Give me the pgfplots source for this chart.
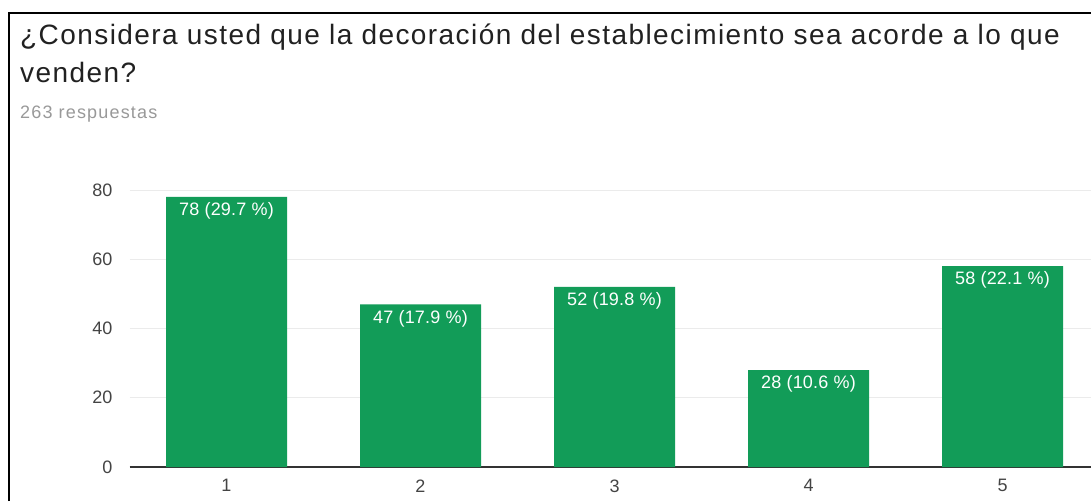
\documentclass[border=0pt]{standalone}
\usepackage{fontspec}
\setmainfont{Liberation Sans}
\usepackage{pgfplots}
\pgfplotsset{compat=1.18}
\definecolor{bargreen}{HTML}{129C58}
\definecolor{titlecol}{HTML}{212121}
\definecolor{subcol}{HTML}{999999}
\definecolor{tickcol}{HTML}{444444}
\definecolor{gridcol}{HTML}{EBEBEB}
\begin{document}
\begin{tikzpicture}[x=1pt,y=1pt]
\clip (0,0) rectangle (1091,501);
\fill[white] (0,0) rectangle (1091,501);
\begin{axis}[
  at={(129.5pt,34pt)}, anchor=south west,
  scale only axis, width=970pt, height=277pt,
  xmin=0.5, xmax=5.5, ymin=0, ymax=80,
  ytick={0,20,40,60,80},
  xtick={1,2,3,4,5},
  ymajorgrids, grid style={color=gridcol, line width=1pt},
  axis line style={draw=none},
  major tick length=0pt,
  /pgf/number format/assume math mode=true,
  tick label style={font=\fontsize{18}{20}\selectfont, text=tickcol},
  yticklabel style={xshift=-13.5pt},
  xticklabel style={yshift=-9pt},
  extra y ticks={0}, extra y tick labels={},
  extra y tick style={grid style={color=black!80, line width=1.5pt}},
  ybar, bar width=121pt, bar shift=0pt,
  nodes near coords, point meta=explicit symbolic,
  every node near coord/.append style={anchor=north, text=white, inner ysep=5.5pt, font=\fontsize{18}{20}\selectfont\addfontfeatures{LetterSpace=1.2}},
  clip=false,
]
\addplot[fill=bargreen, draw=none] table[col sep=comma, x=x, y=y, meta=label] {
x,y,label
1,78,78 (29.7 \%)
2,47,47 (17.9 \%)
3,52,52 (19.8 \%)
4,28,28 (10.6 \%)
5,58,58 (22.1 \%)
};
\end{axis}
\node[anchor=base west, font=\fontsize{28}{34}\selectfont\addfontfeatures{LetterSpace=5.1}, text=titlecol, inner sep=0pt] at (20,456) {¿Considera usted que la decoración del establecimiento sea acorde a lo que};
\node[anchor=base west, font=\fontsize{28}{34}\selectfont\addfontfeatures{LetterSpace=5.1}, text=titlecol, inner sep=0pt] at (20,418) {venden?};
\node[anchor=base west, font=\fontsize{18}{20}\selectfont\addfontfeatures{LetterSpace=6.5}, text=subcol, inner sep=0pt] at (20,382) {263 respuestas};
\draw[line width=2.5pt, black] (9,0) -- (9,488) -- (1091,488);
\end{tikzpicture}
\end{document}
